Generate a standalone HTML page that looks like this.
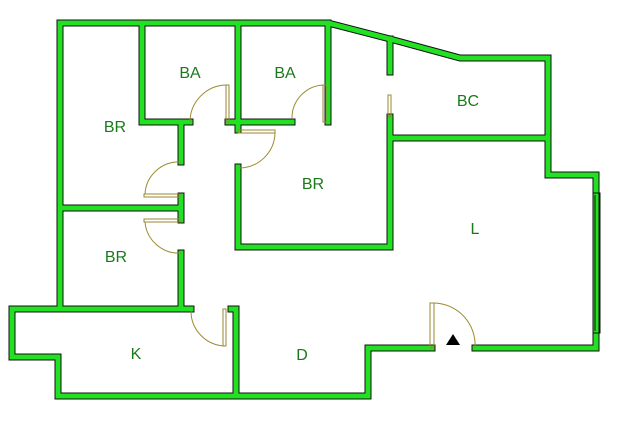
<!DOCTYPE html>
<html><head><style>html,body{margin:0;padding:0;background:#fff;width:637px;height:428px;overflow:hidden}</style></head>
<body>
<svg width="637" height="428" xmlns="http://www.w3.org/2000/svg" style="display:block">
<defs>
<g id="walls" fill="none" stroke-linejoin="miter" stroke-linecap="square">
<polyline points="60,308 60,23 328,23 390,39 460,58 548,58 548,175 596,175 596,348 475,348"/>
<polyline points="432,348 368,348 368,396 58,396 58,357 12,357 12,309 191,309"/>
<line x1="231" y1="309" x2="236" y2="309"/>
<line x1="236" y1="309" x2="236" y2="396"/>
<line x1="142" y1="23" x2="142" y2="122"/>
<line x1="142" y1="122" x2="190" y2="122"/>
<line x1="238" y1="23" x2="238" y2="130"/>
<line x1="228" y1="122" x2="292" y2="122"/>
<line x1="328" y1="23" x2="328" y2="122"/>
<line x1="181" y1="122" x2="181" y2="162"/>
<line x1="181" y1="196" x2="181" y2="220"/>
<line x1="181" y1="253" x2="181" y2="309"/>
<line x1="60" y1="208" x2="181" y2="208"/>
<polyline points="238,167 238,247 390,247 390,117"/>
<line x1="390" y1="39" x2="390" y2="72"/>
<line x1="390" y1="138" x2="548" y2="138"/>
</g>
</defs>
<use href="#walls" stroke="#111" stroke-width="7"/>
<use href="#walls" stroke="#22e022" stroke-width="5"/>
<g fill="none" stroke="#9a8a30" stroke-width="1">
<rect x="226" y="85" width="3" height="37"/>
<path d="M226,85 A37,37 0 0 0 190,122"/>
<rect x="323" y="85" width="3" height="37"/>
<path d="M323,85 A33,33 0 0 0 292,118"/>
<rect x="238" y="130" width="37" height="3"/>
<path d="M275,133 A36,36 0 0 1 239,168"/>
<rect x="144" y="194" width="36" height="3"/>
<path d="M181,162 A34,34 0 0 0 145,194"/>
<rect x="144" y="219" width="36" height="3"/>
<path d="M145,222 A34,34 0 0 0 181,253"/>
<rect x="223" y="309" width="3" height="37"/>
<path d="M191,311 A35,35 0 0 0 225,346"/>
<rect x="430" y="303" width="4" height="45"/>
<path d="M434,303 A42,42 0 0 1 475,348"/>
<rect x="388" y="95" width="3" height="22"/>
<rect x="593" y="193" width="7" height="140" stroke="#111"/>
<line x1="595" y1="195" x2="595" y2="331" stroke="#111"/>
</g>
<polygon points="453,334 446,345 460,345" fill="#000"/>
<g font-family="Liberation Sans, sans-serif" font-size="16" fill="#1a7a1a" text-anchor="middle">
<text x="190" y="78">BA</text>
<text x="285" y="78">BA</text>
<text x="468" y="106">BC</text>
<text x="115" y="132">BR</text>
<text x="313" y="189">BR</text>
<text x="475" y="234">L</text>
<text x="116" y="262">BR</text>
<text x="136" y="359">K</text>
<text x="302" y="360">D</text>
</g>
</svg>
</body></html>
